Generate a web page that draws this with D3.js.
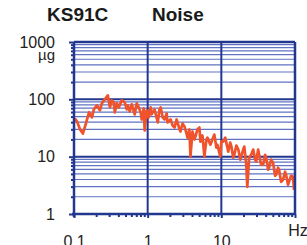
<!DOCTYPE html>
<html>
<head>
<meta charset="utf-8">
<script src="https://cdn.jsdelivr.net/npm/d3@7"></script>
<style>
  body { margin: 0; background: #fff; }
  svg { display: block; }
  text { font-family: "Liberation Sans", Arial, sans-serif; }
</style>
</head>
<body>
<div id="chart"></div>
<script>
// frequency (Hz) of each reading on the trace
var freqs = [
  0.103, 0.110, 0.121, 0.132, 0.145, 0.160, 0.175, 0.186, 0.205, 0.225,
  0.239, 0.262, 0.288, 0.307, 0.326, 0.347, 0.358, 0.381, 0.406, 0.445,
  0.489, 0.520, 0.537, 0.571, 0.608, 0.667, 0.710, 0.756, 0.804, 0.830,
  0.883, 0.911, 0.969, 1.03, 1.10, 1.13, 1.24, 1.32, 1.37, 1.45,
  1.50, 1.60, 1.70, 1.81, 1.86, 2.05, 2.18, 2.32, 2.47, 2.54,
  2.71, 2.79, 2.97, 3.16, 3.37, 3.47, 3.69, 3.81, 4.06, 4.32,
  4.45, 4.74, 5.04, 5.20, 5.54, 5.89, 6.27, 6.47, 7.10, 7.56,
  8.04, 8.56, 8.83, 9.69, 10.0, 10.6, 11.3, 12.1, 12.4, 13.2,
  13.7, 14.5, 15.0, 16.0, 17.0, 18.1, 18.6, 19.8, 20.5, 21.8,
  22.5, 23.9, 25.4, 27.1, 28.8, 29.7, 31.6, 32.6, 34.7, 36.9,
  39.3, 40.6, 43.2, 44.5, 47.4, 50.4, 53.7, 55.4, 58.9, 60.8,
  64.7, 68.8, 73.3, 75.6, 80.4, 83.0, 88.3, 94.0, 96.9
];
// noise level (ug) at each frequency
var noise = [
  46.4, 41.1, 29.8, 25.3, 37.9, 59.2, 48.3, 66.8, 78.5, 64.1,
  85.1, 100, 117.5, 72.4, 96.0, 88.6, 59.2, 85.1, 72.4, 96.0,
  88.6, 66.8, 78.5, 61.6, 81.7, 54.6, 85.1, 72.4, 59.2, 44.6,
  69.5, 28.6, 64.1, 48.3, 72.4, 54.6, 66.8, 48.3, 39.5, 66.8,
  72.4, 48.3, 44.6, 56.8, 39.5, 44.6, 35.0, 32.3, 44.6, 39.5,
  29.8, 27.5, 37.9, 33.6, 25.3, 21.5, 29.8, 10.0, 27.5, 19.9,
  22.4, 29.8, 32.3, 18.3, 23.4, 10.0, 19.9, 21.5, 16.2, 19.9,
  24.3, 14.4, 16.2, 10.0, 18.3, 18.3, 21.5, 14.4, 12.2, 17.6,
  15.0, 9.60, 10.8, 15.6, 13.3, 8.86, 10.0, 13.3, 15.0, 7.24,
  2.98, 9.60, 10.8, 13.3, 8.86, 8.17, 13.3, 10.8, 7.24, 7.24,
  10.8, 9.60, 5.92, 6.41, 8.86, 7.85, 4.64, 4.83, 6.41, 5.92,
  3.64, 3.95, 5.46, 4.83, 3.23, 3.64, 4.64, 4.46, 2.64
];

var yMajor = [1, 10, 100, 1000];
var yMajorLabels = ["1", "10", "100", "1000"];
var yMinor = [2, 3, 4, 5, 6, 7, 8, 9, 20, 30, 40, 50, 60, 70, 80, 90,
              200, 300, 400, 500, 600, 700, 800, 900];
var xMajor = [0.1, 1, 10, 100];
var xMajorLabels = ["0.1", "1", "10", ""];
var xMinor = [0.2, 0.3, 0.4, 0.5, 0.6, 0.7, 0.8, 0.9, 2, 3, 4, 5, 6, 7, 8, 9,
              20, 30, 40, 50, 60, 70, 80, 90];

var width = 307, height = 245;
var dark = "#22378f", light = "#5f73c2", red = "#f0532c";

var x = d3.scaleLog().domain([0.1, 100]).range([74, 295]);
var y = d3.scaleLog().domain([1, 1000]).range([214, 42]);

var svg = d3.select("#chart").append("svg")
    .attr("width", width)
    .attr("height", height);

// minor horizontal grid
svg.append("g").selectAll("line")
    .data(yMinor)
    .enter().append("line")
    .attr("x1", x(0.1)).attr("x2", x(100))
    .attr("y1", function (d) { return y(d); })
    .attr("y2", function (d) { return y(d); })
    .attr("stroke", light)
    .attr("stroke-width", 1.2);

// major horizontal grid
svg.append("g").selectAll("line")
    .data(yMajor.slice(1))
    .enter().append("line")
    .attr("x1", x(0.1)).attr("x2", x(100))
    .attr("y1", function (d) { return y(d); })
    .attr("y2", function (d) { return y(d); })
    .attr("stroke", dark)
    .attr("stroke-width", 2);

// vertical grid at decades
svg.append("g").selectAll("line")
    .data(xMajor.slice(1))
    .enter().append("line")
    .attr("x1", function (d) { return x(d); })
    .attr("x2", function (d) { return x(d); })
    .attr("y1", y(1000)).attr("y2", y(1))
    .attr("stroke", dark)
    .attr("stroke-width", 2);

// noise trace
var pts = freqs.map(function (f, i) { return { f: f, v: noise[i] }; });
var line = d3.line()
    .x(function (d) { return x(d.f); })
    .y(function (d) { return y(d.v); });

svg.append("path")
    .datum(pts)
    .attr("fill", "none")
    .attr("stroke", red)
    .attr("stroke-width", 2.7)
    .attr("stroke-linejoin", "round")
    .attr("d", line);

// axes
function styleAxis(g) {
    g.select(".domain").remove();
    g.selectAll(".tick line").attr("stroke", dark).attr("stroke-width", 2);
    g.selectAll(".tick text").attr("fill", "#222").style("font-size", "16px");
}

svg.append("g")
    .attr("transform", "translate(" + x(0.1) + ",0)")
    .call(d3.axisLeft(y).tickValues(yMinor).tickSize(3).tickFormat(""))
    .call(styleAxis);

svg.append("g")
    .attr("transform", "translate(" + x(0.1) + ",0)")
    .call(d3.axisLeft(y).tickValues(yMajor).tickSize(5).tickPadding(14)
        .tickFormat(function (d, i) { return yMajorLabels[i]; }))
    .call(styleAxis);

svg.append("g")
    .attr("transform", "translate(0," + y(1) + ")")
    .call(d3.axisBottom(x).tickValues(xMinor).tickSize(3).tickFormat(""))
    .call(styleAxis);

svg.append("g")
    .attr("transform", "translate(0," + y(1) + ")")
    .call(d3.axisBottom(x).tickValues(xMajor).tickSize(4).tickPadding(18)
        .tickFormat(function (d, i) { return xMajorLabels[i]; }))
    .call(styleAxis);

// frame
svg.append("line").attr("x1", x(0.1)).attr("x2", x(0.1)).attr("y1", y(1000)).attr("y2", y(1) + 3)
    .attr("stroke", dark).attr("stroke-width", 2.5);
svg.append("line").attr("x1", x(0.1) - 2).attr("x2", x(100)).attr("y1", y(1)).attr("y2", y(1))
    .attr("stroke", dark).attr("stroke-width", 2.5);
svg.append("line").attr("x1", x(0.1)).attr("x2", x(100)).attr("y1", y(1000)).attr("y2", y(1000))
    .attr("stroke", dark).attr("stroke-width", 2.5);
svg.append("line").attr("x1", x(100)).attr("x2", x(100)).attr("y1", y(1000)).attr("y2", y(1))
    .attr("stroke", dark).attr("stroke-width", 2.5);

// unit labels
svg.append("text")
    .attr("x", 55).attr("y", 60)
    .attr("text-anchor", "end")
    .attr("fill", "#222")
    .style("font-size", "15px")
    .text("µg");

svg.append("text")
    .attr("x", 298).attr("y", 236)
    .attr("text-anchor", "middle")
    .attr("fill", "#222")
    .style("font-size", "16px")
    .text("Hz");

// titles
svg.append("text")
    .attr("x", 47).attr("y", 21)
    .attr("fill", "#1a1a1a")
    .style("font-size", "19px").style("font-weight", "bold")
    .text("KS91C");

svg.append("text")
    .attr("x", 152).attr("y", 21)
    .attr("fill", "#1a1a1a")
    .style("font-size", "19px").style("font-weight", "bold")
    .text("Noise");
</script>
</body>
</html>
